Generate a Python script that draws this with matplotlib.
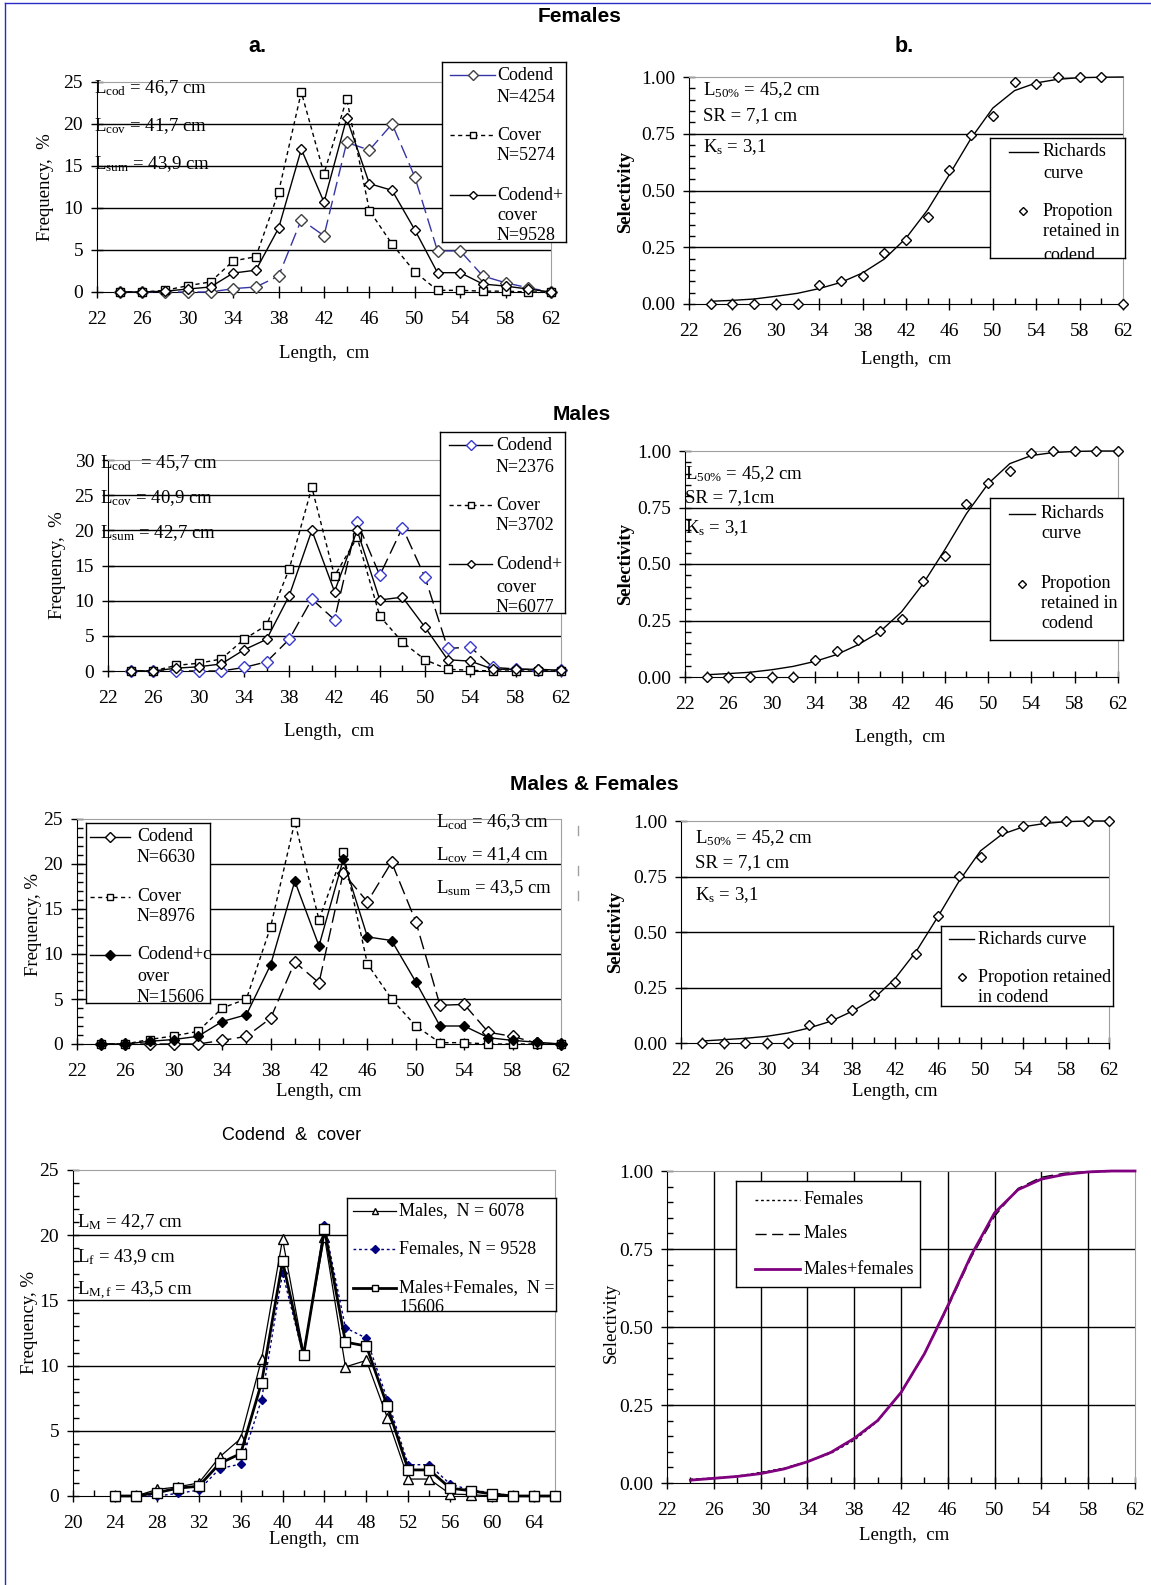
import numpy as np
import matplotlib.pyplot as plt
from matplotlib.lines import Line2D

plt.rcParams['font.family'] = ['Liberation Serif', 'DejaVu Serif']
plt.rcParams['mathtext.fontset'] = 'custom'
plt.rcParams['mathtext.rm'] = 'Liberation Serif'
plt.rcParams['mathtext.it'] = 'Liberation Serif:italic'
plt.rcParams['mathtext.bf'] = 'Liberation Serif:bold'

W, H = 1151, 1585
FS = 13.5
LEG_FS = 13
TICK_FS = 14
BLUE = '#3535a5'
NAVY = '#000080'
PURPLE = '#800080'
GREY = '#a0a0a0'

# ---- data ----
length = [24, 26, 28, 30, 32, 34, 36, 38, 40, 42, 44, 46, 48, 50, 52, 54, 56, 58, 60, 62]
length_ext = [24, 26, 28, 30, 32, 34, 36, 38, 40, 42, 44, 46, 48, 50, 52, 54, 56, 58, 60, 62, 64, 66]

# Females, % by length
fem_codend = [0, 0, 0, 0, 0, 0.4, 0.6, 1.9, 8.6, 6.7, 17.8, 16.9, 20.0, 13.7, 4.9, 4.9, 1.9, 1.1, 0.5, 0]
fem_cover = [0, 0, 0.2, 0.75, 1.2, 3.7, 4.2, 11.9, 23.8, 14.1, 23.0, 9.7, 5.7, 2.4, 0.2, 0.2, 0.1, 0.1, 0, 0]
fem_total = [0, 0, 0.1, 0.35, 0.6, 2.25, 2.6, 7.6, 17.0, 10.7, 20.7, 12.9, 12.1, 7.4, 2.3, 2.3, 0.95, 0.7, 0.35, 0]
fem_prop = [0, 0, 0, 0, 0, 0.082, 0.10, 0.122, 0.225, 0.28, 0.383, 0.592, 0.746, 0.828, 0.977, 0.968, 1.0, 1.0, 1.0, 0]
fem_curve = [0.012, 0.016, 0.022, 0.034, 0.047, 0.068, 0.095, 0.137, 0.198, 0.29, 0.415, 0.57, 0.73, 0.863, 0.94, 0.974, 0.99, 0.997, 0.999, 1.0]

# Males
mal_codend = [0, 0, 0, 0, 0, 0.5, 1.3, 4.5, 10.2, 7.3, 21.2, 13.6, 20.4, 13.3, 3.2, 3.4, 0.5, 0.3, 0.15, 0.1]
mal_cover = [0, 0, 0.8, 1.1, 1.7, 4.5, 6.5, 14.5, 26.1, 13.5, 19.0, 7.8, 4.1, 1.6, 0.25, 0.1, 0, 0, 0, 0]
mal_total = [0, 0, 0.4, 0.6, 1.0, 3.0, 4.5, 10.7, 20.0, 11.3, 20.0, 10.1, 10.5, 6.2, 1.6, 1.4, 0.25, 0.25, 0.25, 0.1]
mal_prop = [0, 0, 0, 0, 0, 0.077, 0.114, 0.165, 0.204, 0.258, 0.423, 0.535, 0.764, 0.858, 0.91, 0.993, 1.0, 1.0, 1.0, 1.0]
mal_curve = [0.01, 0.015, 0.021, 0.032, 0.047, 0.069, 0.099, 0.143, 0.2, 0.288, 0.413, 0.563, 0.723, 0.855, 0.944, 0.98, 0.993, 0.998, 1.0, 1.0]

# Males & females
all_codend = [0, 0, 0, 0, 0, 0.4, 0.85, 2.85, 9.1, 6.8, 19.0, 15.8, 20.2, 13.6, 4.3, 4.4, 1.3, 0.85, 0.1, 0]
all_cover = [0, 0, 0.5, 0.9, 1.4, 4.0, 5.0, 13.0, 24.7, 13.8, 21.3, 8.9, 5.0, 2.0, 0.15, 0.15, 0, 0, 0, 0]
all_total = [0, 0, 0.3, 0.5, 0.85, 2.5, 3.25, 8.8, 18.1, 10.9, 20.5, 11.9, 11.5, 6.9, 2.0, 2.0, 0.7, 0.4, 0.2, 0]
all_prop = [0, 0, 0, 0, 0, 0.08, 0.11, 0.147, 0.218, 0.275, 0.40, 0.573, 0.752, 0.839, 0.956, 0.977, 1.0, 1.0, 1.0, 1.0]
all_curve = [0.009, 0.015, 0.021, 0.03, 0.045, 0.068, 0.098, 0.143, 0.2, 0.29, 0.414, 0.568, 0.73, 0.866, 0.94, 0.974, 0.989, 0.997, 1.0, 1.0]

# Codend & cover, by sex
cc_males = [0, 0, 0.5, 0.7, 1.0, 3.0, 4.4, 10.5, 19.7, 11.0, 19.9, 9.9, 10.4, 6.0, 1.3, 1.3, 0.15, 0.1, 0, 0, 0, 0]
cc_females = [0, 0, 0, 0.2, 0.45, 2.1, 2.45, 7.4, 17.1, 10.7, 20.8, 12.9, 12.1, 7.4, 2.4, 2.4, 0.9, 0.45, 0.25, 0, 0, 0]
cc_all = [0, 0, 0.25, 0.6, 0.75, 2.5, 3.25, 8.7, 18.0, 10.8, 20.45, 11.8, 11.5, 6.9, 2.0, 2.0, 0.6, 0.4, 0.15, 0, 0, 0]

fig = plt.figure(figsize=(W / 100, H / 100), dpi=100)


def px_axes(l, t, r, b):
    return fig.add_axes([l / W, 1 - b / H, (r - l) / W, (b - t) / H])


def ftext(x, y, s, **kw):
    kw.setdefault('fontsize', FS)
    kw.setdefault('va', 'center')
    return fig.text(x / W, 1 - y / H, s, **kw)


def frame(ax, xlim, ylim, ystep, yminor=None, fmt='{:.0f}', vgrid=False):
    ax.set_xlim(*xlim)
    ax.set_ylim(*ylim)
    ax.set_xticks(np.arange(xlim[0], xlim[1] + 0.1, 4))
    ax.set_xticks(np.arange(xlim[0], xlim[1] + 0.1, 2), minor=True)
    yt = np.arange(ylim[0], ylim[1] + ystep / 2, ystep)
    ax.set_yticks(yt)
    ax.set_yticklabels([fmt.format(v) for v in yt])
    if yminor:
        ax.set_yticks(np.arange(ylim[0], ylim[1] + yminor / 2, yminor), minor=True)
    ax.tick_params(which='major', direction='inout', length=8, width=1, labelsize=TICK_FS)
    ax.tick_params(axis='x', which='major', pad=10)
    ax.tick_params(axis='y', which='major', pad=6)
    ax.tick_params(which='minor', direction='in', length=4, width=1)
    for v in yt[1:-1]:
        ax.axhline(v, color='black', lw=1, zorder=1)
    if vgrid:
        for v in ax.get_xticks()[1:-1]:
            ax.axvline(v, color='black', lw=1, zorder=1)
    ax.spines['top'].set_color(GREY)
    ax.spines['right'].set_color(GREY)


def box_legend(l, t, r, b, samples, texts):
    lg = px_axes(l, t, r, b)
    lg.set_xlim(l, r)
    lg.set_ylim(b, t)
    lg.set_xticks([])
    lg.set_yticks([])
    for sp in lg.spines.values():
        sp.set_linewidth(1)
        sp.set_color('black')
    for x0, x1, y, kw in samples:
        lg.plot([x0, (x0 + x1) / 2, x1], [y, y, y], markevery=[1], **kw)
    for x, y, s in texts:
        lg.text(x, y, s, va='center', fontsize=LEG_FS, clip_on=True)


def sel_text(x, ys, sr_txt):
    ftext(x, ys[0], r'L$_{\rm 50\%}$ = 45,2 cm')
    ftext(x, ys[1], sr_txt)
    ftext(x, ys[2], r'K$_{\rm s}$ = 3,1')


dia = dict(marker='D', mfc='white', mew=1, clip_on=False)

# ---- titles ----
sans = ['Liberation Sans', 'DejaVu Sans']
ftext(580, 17, 'Females', family=sans, fontweight='bold', fontsize=15, ha='center')
ftext(257, 46, 'a.', family=sans, fontweight='bold', fontsize=15.5, ha='center')
ftext(904, 46, 'b.', family=sans, fontweight='bold', fontsize=15.5, ha='center')
ftext(582, 415, 'Males', family=sans, fontweight='bold', fontsize=15, ha='center')
ftext(594, 785, 'Males & Females', family=sans, fontweight='bold', fontsize=15, ha='center')
ftext(292, 1135, 'Codend  &  cover', family=sans, fontsize=13, ha='center')

# ---- panel a: females length frequency ----
ax1 = px_axes(97, 82, 551, 292)
frame(ax1, (22, 62), (0, 25), 5)
ax1.plot(length, fem_codend, color=BLUE, lw=1, ls=(0, (10, 4)), ms=6, mec='#404040', zorder=3, **dia)
ax1.plot(length, fem_cover, color='black', lw=1, ls=(0, (3, 2.5)), marker='s', ms=6, mfc='white',
         mec='black', clip_on=False, zorder=3)
ax1.plot(length, fem_total, color='black', lw=1, ms=5, mec='black', zorder=4, **dia)
ftext(94, 88, r'L$_{\rm cod}$ = 46,7 cm')
ftext(94, 126, r'L$_{\rm cov}$ = 41,7 cm')
ftext(94, 164, r'L$_{\rm sum}$ = 43,9 cm')
ftext(46, 187, 'Frequency,  %', rotation=90, ha='center')
ftext(324, 353, 'Length,  cm', ha='center')
box_legend(442, 62, 566, 242,
           [(450, 495, 75, dict(color=BLUE, lw=1, marker='D', ms=5, mfc='white', mec='#404040')),
            (450, 495, 135, dict(color='black', lw=1, ls=(0, (3, 2.5)), marker='s', ms=5, mfc='white')),
            (450, 495, 195, dict(color='black', lw=1, marker='D', ms=4, mfc='white'))],
           [(497, 75, 'Codend'), (497, 97, 'N=4254'), (497, 135, 'Cover'), (497, 156, 'N=5274'),
            (497, 195, 'Codend+'), (497, 216, 'cover'), (497, 236, 'N=9528')])

# ---- panel b: females selectivity ----
ax2 = px_axes(689, 77, 1123, 304)
frame(ax2, (22, 62), (0, 1), 0.25, yminor=0.05, fmt='{:.2f}')
ax2.plot(length, fem_curve, color='black', lw=1, clip_on=False, zorder=3)
ax2.plot(length, fem_prop, ls='none', ms=5, mec='black', zorder=4, **dia)
sel_text(703, (90, 116, 147), 'SR = 7,1 cm')
ftext(626, 192, 'Selectivity', rotation=90, ha='center', fontweight='bold')
ftext(906, 360, 'Length,  cm', ha='center')
box_legend(990, 138, 1125, 258,
           [(1009, 1038, 152, dict(color='black', lw=1)),
            (1009, 1038, 211, dict(ls='none', marker='D', ms=4, mfc='white', mec='black'))],
           [(1043, 152, 'Richards'), (1043, 173, 'curve'), (1043, 211, 'Propotion'),
            (1043, 232, 'retained in'), (1043, 255, 'codend')])

# ---- males length frequency ----
ax3 = px_axes(108, 460, 561, 671)
frame(ax3, (22, 62), (0, 30), 5)
ax3.plot(length, mal_codend, color='black', lw=1, ls=(0, (10, 4)), ms=6, mec='#3a3acc', zorder=3, **dia)
ax3.plot(length, mal_cover, color='black', lw=1, ls=(0, (3, 2.5)), marker='s', ms=6, mfc='white',
         mec='black', clip_on=False, zorder=3)
ax3.plot(length, mal_total, color='black', lw=1, ms=5, mec='black', zorder=4, **dia)
ftext(100, 463, r'L$_{\rm cod}$  = 45,7 cm')
ftext(100, 498, r'L$_{\rm cov}$ = 40,9 cm')
ftext(100, 533, r'L$_{\rm sum}$ = 42,7 cm')
ftext(57, 565, 'Frequency,  %', rotation=90, ha='center')
ftext(329, 732, 'Length,  cm', ha='center')
box_legend(440, 432, 565, 613,
           [(449, 492, 445, dict(color='black', lw=1, marker='D', ms=5, mfc='white', mec='#3a3acc')),
            (449, 492, 505, dict(color='black', lw=1, ls=(0, (3, 2.5)), marker='s', ms=5, mfc='white')),
            (449, 492, 564, dict(color='black', lw=1, marker='D', ms=4, mfc='white'))],
           [(496, 445, 'Codend'), (496, 467, 'N=2376'), (496, 505, 'Cover'), (496, 526, 'N=3702'),
            (496, 564, 'Codend+'), (496, 587, 'cover'), (496, 608, 'N=6077')])

# ---- males selectivity ----
ax4 = px_axes(685, 451, 1118, 677)
frame(ax4, (22, 62), (0, 1), 0.25, yminor=0.05, fmt='{:.2f}')
ax4.plot(length, mal_curve, color='black', lw=1, clip_on=False, zorder=3)
ax4.plot(length, mal_prop, ls='none', ms=5, mec='black', zorder=4, **dia)
sel_text(685, (474, 498, 528), 'SR = 7,1cm')
ftext(626, 564, 'Selectivity', rotation=90, ha='center', fontweight='bold')
ftext(900, 737, 'Length,  cm', ha='center')
box_legend(990, 498, 1123, 640,
           [(1009, 1035, 514, dict(color='black', lw=1)),
            (1009, 1035, 584, dict(ls='none', marker='D', ms=4, mfc='white', mec='black'))],
           [(1041, 514, 'Richards'), (1041, 534, 'curve'), (1041, 584, 'Propotion'),
            (1041, 604, 'retained in'), (1041, 624, 'codend')])

# ---- males & females length frequency ----
ax5 = px_axes(77, 819, 561, 1044)
frame(ax5, (22, 62), (0, 25), 5, yminor=1)
ax5.plot(length, all_codend, color='black', lw=1, ls=(0, (10, 4)), ms=6, mec='black', zorder=3, **dia)
ax5.plot(length, all_cover, color='black', lw=1, ls=(0, (3, 2.5)), marker='s', ms=6, mfc='white',
         mec='black', clip_on=False, zorder=3)
ax5.plot(length, all_total, color='black', lw=1, marker='D', ms=5, mfc='black', mec='black',
         clip_on=False, zorder=4)
ftext(436, 822, r'L$_{\rm cod}$ = 46,3 cm')
ftext(436, 855, r'L$_{\rm cov}$ = 41,4 cm')
ftext(436, 888, r'L$_{\rm sum}$ = 43,5 cm')
for y0 in (826, 866, 891):
    fig.add_artist(Line2D([578 / W, 578 / W], [1 - y0 / H, 1 - (y0 + 9) / H], color=GREY, lw=1))
ftext(34, 925, 'Frequency, %', rotation=90, ha='center')
ftext(319, 1092, 'Length, cm', ha='center')
box_legend(86, 823, 210, 1003,
           [(90, 130, 837, dict(color='black', lw=1, marker='D', ms=5, mfc='white', mec='black')),
            (90, 130, 897, dict(color='black', lw=1, ls=(0, (3, 2.5)), marker='s', ms=5, mfc='white')),
            (90, 130, 955, dict(color='black', lw=1, marker='D', ms=5, mfc='black'))],
           [(137, 837, 'Codend'), (137, 858, 'N=6630'), (137, 897, 'Cover'), (137, 917, 'N=8976'),
            (137, 955, 'Codend+c'), (137, 977, 'over'), (137, 998, 'N=15606')])

# ---- males & females selectivity ----
ax6 = px_axes(681, 821, 1109, 1043)
frame(ax6, (22, 62), (0, 1), 0.25, fmt='{:.2f}')
ax6.plot(length, all_curve, color='black', lw=1, clip_on=False, zorder=3)
ax6.plot(length, all_prop, ls='none', ms=5, mec='black', zorder=4, **dia)
sel_text(695, (838, 863, 895), 'SR = 7,1 cm')
ftext(616, 932, 'Selectivity', rotation=90, ha='center', fontweight='bold')
ftext(895, 1092, 'Length, cm', ha='center')
box_legend(941, 926, 1113, 1006,
           [(949, 974, 939, dict(color='black', lw=1)),
            (949, 974, 977, dict(ls='none', marker='D', ms=4, mfc='white', mec='black'))],
           [(978, 939, 'Richards curve'), (978, 977, 'Propotion retained'), (978, 998, 'in codend')])

# ---- codend & cover by sex ----
ax7 = px_axes(73, 1170, 555, 1496)
frame(ax7, (20, 66), (0, 25), 5, yminor=1)
ax7.plot(length_ext, cc_males, color='black', lw=0.9, marker='^', ms=6.5, mfc='white', mec='black',
         clip_on=False, zorder=3)
ax7.plot(length_ext, cc_females, color=NAVY, lw=1, ls=(0, (2, 2)), marker='D', ms=4.5, mfc=NAVY, mec=NAVY,
         clip_on=False, zorder=3)
ax7.plot(length_ext, cc_all, color='black', lw=2, marker='s', ms=6.5, mfc='white', mec='black', mew=1,
         clip_on=False, zorder=4)
ftext(77, 1222, r'L$_{\rm M}$ = 42,7 cm')
ftext(77, 1257, r'L$_{\rm f}$ = 43,9 cm')
ftext(77, 1291, r'L$_{\rm M,f}$ = 43,5 cm')
ftext(30, 1322, 'Frequency, %', rotation=90, ha='center')
ftext(314, 1540, 'Length,  cm', ha='center')
box_legend(347, 1198, 556, 1311,
           [(353, 396, 1211, dict(color='black', lw=0.9, marker='^', ms=5, mfc='white')),
            (353, 396, 1249, dict(color=NAVY, lw=1, ls=(0, (2, 2)), marker='D', ms=4, mfc=NAVY, mec=NAVY)),
            (353, 396, 1288, dict(color='black', lw=2, marker='s', ms=5, mfc='white', mew=1))],
           [(399, 1211, 'Males,  N = 6078'), (399, 1249, 'Females, N = 9528'),
            (399, 1288, 'Males+Females,  N ='), (399, 1308, '15606')])

# ---- selectivity curves compared ----
ax8 = px_axes(667, 1171, 1135, 1483)
frame(ax8, (22, 62), (0, 1), 0.25, yminor=0.05, fmt='{:.2f}', vgrid=True)
ax8.plot(length, fem_curve, color='black', lw=1, ls=(0, (2, 2)), clip_on=False, zorder=3)
ax8.plot(length, mal_curve, color='black', lw=1, ls=(0, (8, 4)), clip_on=False, zorder=3)
ax8.plot(length, all_curve, color=PURPLE, lw=2, clip_on=False, zorder=4)
ftext(611, 1323, 'Selectivity', rotation=90, ha='center')
ftext(904, 1536, 'Length,  cm', ha='center')
box_legend(736, 1181, 920, 1287,
           [(755, 800, 1200, dict(color='black', lw=1, ls=(0, (2, 2)))),
            (755, 800, 1234, dict(color='black', lw=1, ls=(0, (8, 4)))),
            (755, 800, 1269, dict(color=PURPLE, lw=2))],
           [(804, 1200, 'Females'), (804, 1234, 'Males'), (804, 1269, 'Males+females')])

# blue page frame
fig.add_artist(Line2D([5 / W, 1], [1 - 3 / H, 1 - 3 / H], color='#2a2ac8', lw=1))
fig.add_artist(Line2D([5 / W, 5 / W], [0, 1 - 3 / H], color='#2a2ac8', lw=1))

fig.savefig('out.png', dpi=100)
